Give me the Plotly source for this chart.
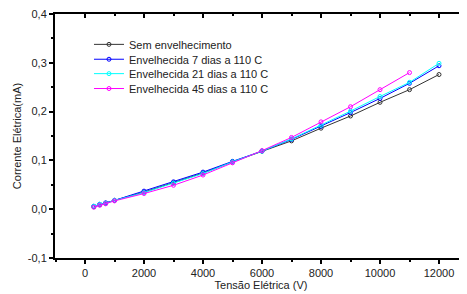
import plotly.graph_objects as go

tensao = [300, 500, 700, 1000, 2000, 3000, 4000, 5000, 6000, 7000, 8000, 9000, 10000, 11000, 12000]
tensao_45 = [300, 500, 700, 1000, 2000, 3000, 4000, 5000, 6000, 7000, 8000, 9000, 10000, 11000]

sem_envelhecimento = [0.005, 0.009, 0.012, 0.018, 0.035, 0.054, 0.074, 0.097, 0.119, 0.140, 0.166, 0.191, 0.219, 0.245, 0.276]
env_7_dias = [0.006, 0.010, 0.013, 0.018, 0.037, 0.056, 0.076, 0.098, 0.119, 0.143, 0.170, 0.198, 0.227, 0.258, 0.294]
env_21_dias = [0.006, 0.010, 0.012, 0.018, 0.034, 0.053, 0.073, 0.097, 0.119, 0.144, 0.172, 0.201, 0.231, 0.260, 0.299]
env_45_dias = [0.004, 0.008, 0.011, 0.017, 0.032, 0.049, 0.070, 0.095, 0.120, 0.147, 0.179, 0.210, 0.245, 0.280]

series = [
    ("Sem envelhecimento", tensao, sem_envelhecimento, "#333333"),
    ("Envelhecida 7 dias a 110 C", tensao, env_7_dias, "#0000FF"),
    ("Envelhecida 21 dias a 110 C", tensao, env_21_dias, "#00FFFF"),
    ("Envelhecida 45 dias a 110 C", tensao_45, env_45_dias, "#FF00FF"),
]

x_ticks = [0, 2000, 4000, 6000, 8000, 10000, 12000]
y_ticks = [-0.1, 0.0, 0.1, 0.2, 0.3, 0.4]
y_labels = ["-0,1", "0,0", "0,1", "0,2", "0,3", "0,4"]

XR = [-1017, 12949]
YR = [-0.1001, 0.4001]

legend_ids = ["legend", "legend2", "legend3", "legend4"]
legend_y = [0.935, 0.874, 0.815, 0.754]

fig = go.Figure()
for (name, xs, ys, color), lid in zip(series, legend_ids):
    fig.add_trace(go.Scatter(
        x=xs, y=ys, name=name, mode="lines+markers", legend=lid,
        line=dict(color=color, width=1),
        marker=dict(symbol="circle-open", size=4, color=color, line=dict(width=1)),
    ))

# empty helper traces so the top/right tick axes get drawn
fig.add_trace(go.Scatter(x=[None], y=[None], xaxis="x2", yaxis="y",
                         showlegend=False, hoverinfo="skip", mode="markers"))
fig.add_trace(go.Scatter(x=[None], y=[None], xaxis="x", yaxis="y2",
                         showlegend=False, hoverinfo="skip", mode="markers"))

font = dict(family="Liberation Sans, Arial, sans-serif", size=11, color="#222222")

legend_common = dict(x=0.0825, xanchor="left", yanchor="top",
                     bgcolor="rgba(0,0,0,0)", font=dict(size=11, color="#222222"),
                     tracegroupgap=0, itemwidth=30)

# page body has an 8px margin, compensate so the plot lands where the reference has it
fig.update_layout(
    width=467, height=294,
    margin=dict(l=47, r=8, t=6, b=44),
    paper_bgcolor="white", plot_bgcolor="white",
    font=font,
    showlegend=True,
    xaxis=dict(range=XR, tickvals=x_ticks, ticktext=[str(v) for v in x_ticks],
               automargin=False, ticklabeloverflow="allow",
               showgrid=False, zeroline=False, showline=True, linecolor="black", linewidth=2,
               ticks="outside", ticklen=4, tickwidth=1.5, tickcolor="black",
               minor=dict(dtick=1000, tick0=0, ticks="outside", ticklen=2, tickcolor="black"),
               title=dict(text="Tensão Elétrica (V)", font=dict(size=11), standoff=0),
               tickfont=dict(size=11)),
    yaxis=dict(range=YR, tickvals=y_ticks, ticktext=y_labels,
               automargin=False, ticklabeloverflow="allow",
               showgrid=False, zeroline=False, showline=True, linecolor="black", linewidth=2,
               ticks="outside", ticklen=4, tickwidth=1.5, tickcolor="black",
               minor=dict(dtick=0.05, tick0=0, ticks="outside", ticklen=2, tickcolor="black"),
               title=dict(text="Corrente Elétrica(mA)", font=dict(size=11), standoff=4),
               tickfont=dict(size=11)),
    xaxis2=dict(range=XR, overlaying="x", side="top", anchor="y", tickvals=x_ticks,
                automargin=False,
                showticklabels=False, showgrid=False, zeroline=False,
                showline=True, linecolor="black", linewidth=2,
                ticks="inside", ticklen=4, tickwidth=1.5, tickcolor="black",
                minor=dict(dtick=1000, tick0=0, ticks="inside", ticklen=2, tickcolor="black")),
    yaxis2=dict(range=YR, overlaying="y", side="right", anchor="x", tickvals=y_ticks,
                automargin=False,
                showticklabels=False, showgrid=False, zeroline=False,
                showline=True, linecolor="black", linewidth=2,
                ticks="inside", ticklen=4, tickwidth=1.5, tickcolor="black",
                minor=dict(dtick=0.05, tick0=0, ticks="inside", ticklen=2, tickcolor="black")),
)
for lid, ly in zip(legend_ids, legend_y):
    fig.update_layout({lid: dict(legend_common, y=ly)})

fig.write_html("out.html")
